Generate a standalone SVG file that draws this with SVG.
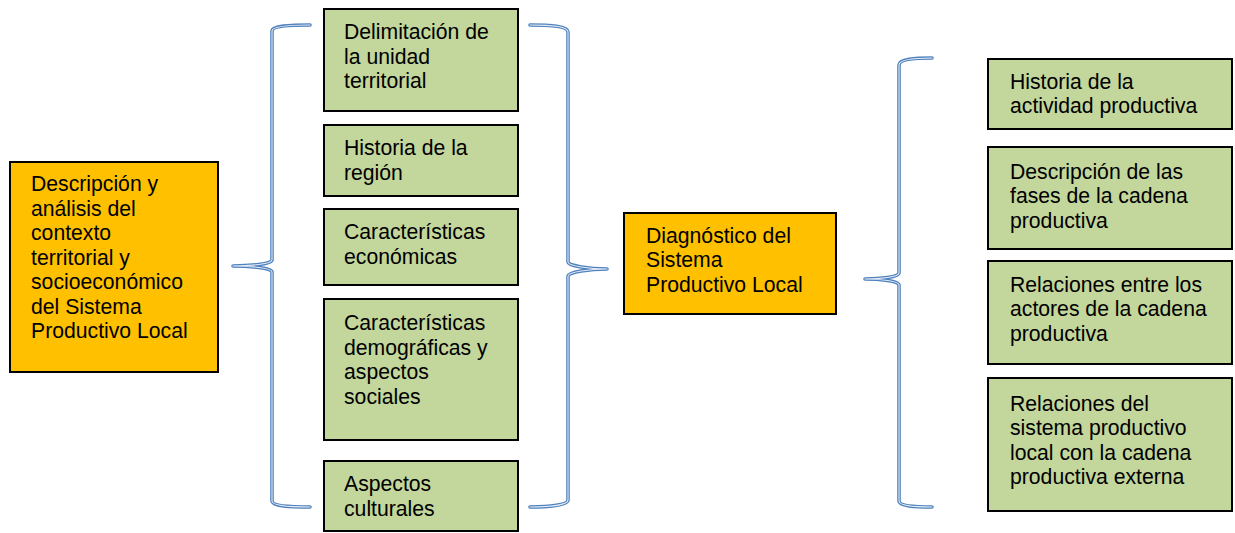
<svg xmlns="http://www.w3.org/2000/svg" width="1235" height="533" viewBox="0 0 1235 533">
<style>
.bg{fill:#ffffff}
.or{fill:#ffc000;stroke:#000;stroke-width:2}
.gr{fill:#c3d69b;stroke:#000;stroke-width:2}
.t{font-family:"Liberation Sans",Arial,sans-serif;font-size:21.2px;fill:#000}
.bo{fill:none;stroke:#4f81bd;stroke-width:3.6;stroke-linejoin:round;stroke-linecap:round}
.bi{fill:none;stroke:#e4ecf7;stroke-width:1.1;stroke-linejoin:round;stroke-linecap:round}
</style>
<defs>
<path id="b1" d="M310,25 C290,25 272,26 272,31 L272,260 C272,264 250,266 233,266 C250,266 272,268 272,272 L272,501 C272,506 290,507 310,507"/>
<path id="b2" d="M530,25 C550,25 568,26 568,32 L568,262 C568,266 590,269 607,269 C590,269 568,272 568,276 L568,500 C568,505 550,507 530,507"/>
<path id="b3" d="M932,58 C915,58 899,59 899,65 L899,273 C899,277 880,279 865,279 C880,279 899,281 899,285 L899,501 C899,506 915,507 932,507"/>
</defs>
<rect class="bg" x="0" y="0" width="1235" height="533"/>
<g id="connectors">
<use href="#b1" class="bo"/><use href="#b1" class="bi"/>
<use href="#b2" class="bo"/><use href="#b2" class="bi"/>
<use href="#b3" class="bo"/><use href="#b3" class="bi"/>
</g>
<g id="n-contexto">
<rect class="or" x="10" y="162" width="208" height="210"/>
<text class="t"><tspan x="31" y="191">Descripción y</tspan><tspan x="31" y="215.5">análisis del</tspan><tspan x="31" y="240">contexto</tspan><tspan x="31" y="264.5">territorial y</tspan><tspan x="31" y="289">socioeconómico</tspan><tspan x="31" y="313.5">del Sistema</tspan><tspan x="31" y="338">Productivo Local</tspan></text>
</g>
<g id="n-delimitacion">
<rect class="gr" x="324" y="9" width="194" height="102"/>
<text class="t"><tspan x="344" y="39">Delimitación de</tspan><tspan x="344" y="63.5">la unidad</tspan><tspan x="344" y="88">territorial</tspan></text>
</g>
<g id="n-historia-region">
<rect class="gr" x="324" y="125" width="194" height="71"/>
<text class="t"><tspan x="344" y="155">Historia de la</tspan><tspan x="344" y="179.5">región</tspan></text>
</g>
<g id="n-economicas">
<rect class="gr" x="324" y="209" width="194" height="76"/>
<text class="t"><tspan x="344" y="239">Características</tspan><tspan x="344" y="263.5">económicas</tspan></text>
</g>
<g id="n-demograficas">
<rect class="gr" x="324" y="299" width="194" height="141"/>
<text class="t"><tspan x="344" y="330">Características</tspan><tspan x="344" y="354.5">demográficas y</tspan><tspan x="344" y="379">aspectos</tspan><tspan x="344" y="403.5">sociales</tspan></text>
</g>
<g id="n-culturales">
<rect class="gr" x="324" y="461" width="194" height="70"/>
<text class="t"><tspan x="344" y="491">Aspectos</tspan><tspan x="344" y="515.5">culturales</tspan></text>
</g>
<g id="n-diagnostico">
<rect class="or" x="624" y="213" width="212" height="101"/>
<text class="t"><tspan x="646" y="242.5">Diagnóstico del</tspan><tspan x="646" y="267">Sistema</tspan><tspan x="646" y="291.5">Productivo Local</tspan></text>
</g>
<g id="n-historia-actividad">
<rect class="gr" x="988" y="59" width="244" height="70"/>
<text class="t"><tspan x="1010" y="88.5">Historia de la</tspan><tspan x="1010" y="113">actividad productiva</tspan></text>
</g>
<g id="n-fases">
<rect class="gr" x="988" y="147" width="244" height="102"/>
<text class="t"><tspan x="1010" y="178.5">Descripción de las</tspan><tspan x="1010" y="203">fases de la cadena</tspan><tspan x="1010" y="227.5">productiva</tspan></text>
</g>
<g id="n-actores">
<rect class="gr" x="988" y="261" width="244" height="103"/>
<text class="t"><tspan x="1010" y="291.5">Relaciones entre los</tspan><tspan x="1010" y="316">actores de la cadena</tspan><tspan x="1010" y="340.5">productiva</tspan></text>
</g>
<g id="n-externa">
<rect class="gr" x="988" y="378" width="244" height="133"/>
<text class="t"><tspan x="1010" y="411">Relaciones del</tspan><tspan x="1010" y="435">sistema productivo</tspan><tspan x="1010" y="459.5">local con la cadena</tspan><tspan x="1010" y="484">productiva externa</tspan></text>
</g>
</svg>
